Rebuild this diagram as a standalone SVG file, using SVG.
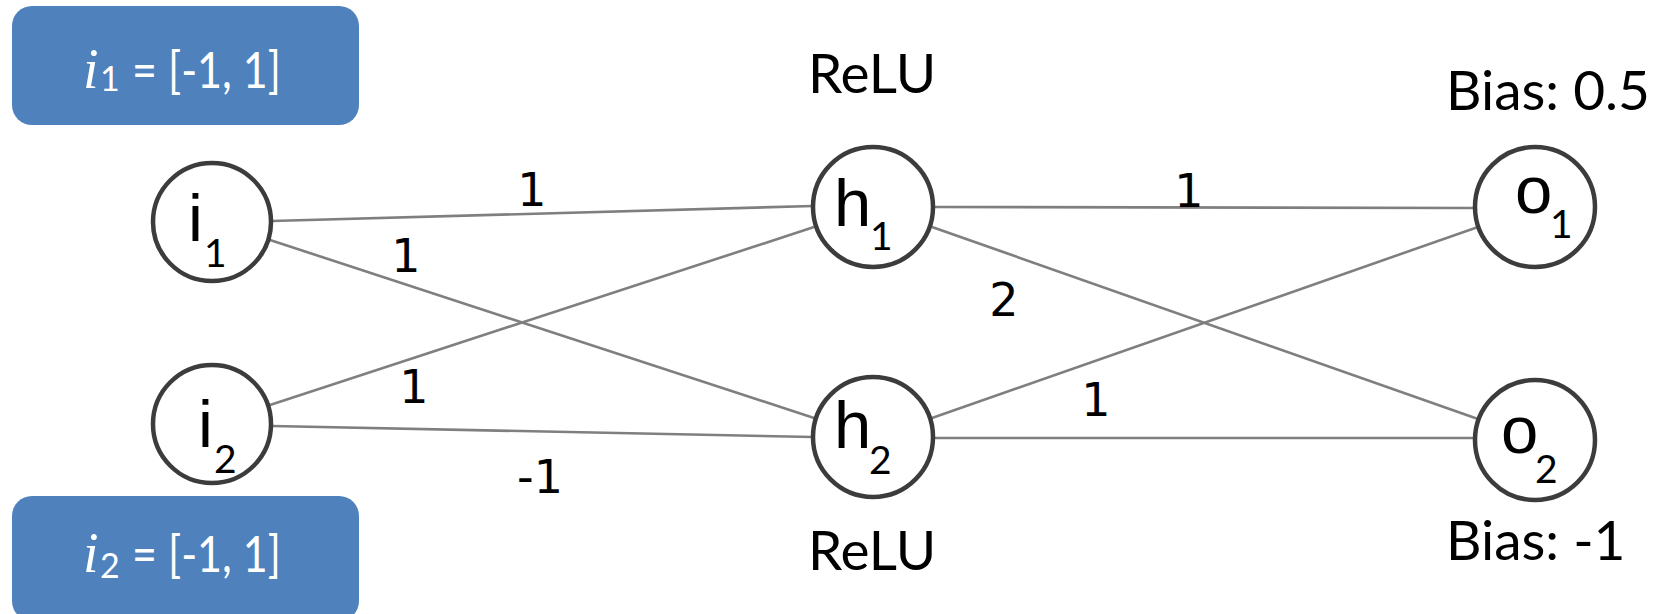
<svg xmlns="http://www.w3.org/2000/svg" width="1658" height="614" viewBox="0 0 1658 614">
<style>
.box{fill:#4F81BD;}
.btxt{fill:#fff;font-family:Lato,"Liberation Sans",sans-serif;font-size:50px;}
.bi{font-family:"Liberation Serif",serif;font-style:italic;font-size:56px;}
.bsub{font-size:34px;}
.edge{stroke:#7f7f7f;stroke-width:2.6;fill:none;}
.node{fill:#fff;stroke:#3c3c3c;stroke-width:4.5;}
.nl{font-family:"Liberation Sans",Arial,sans-serif;font-size:67px;fill:#000;}
.ns{font-family:Lato,"Liberation Sans",sans-serif;font-size:39px;}
.el{font-family:"DejaVu Sans",sans-serif;font-size:46px;fill:#000;text-anchor:middle;}
.lab{font-family:Lato,"Liberation Sans",sans-serif;font-size:55px;fill:#000;}
</style>
<rect width="1658" height="614" fill="#fff"/>
<g id="box-i1">
<rect class="box" x="12" y="6" width="347" height="119" rx="20"/>
<text class="btxt"><tspan class="bi" x="83" y="88">i</tspan><tspan class="bsub" x="100" y="91">1</tspan><tspan x="132" y="88" textLength="149" lengthAdjust="spacingAndGlyphs">= [-1, 1]</tspan></text>
</g>
<g id="box-i2">
<rect class="box" x="12" y="496" width="347" height="125" rx="20"/>
<text class="btxt"><tspan class="bi" x="83" y="572">i</tspan><tspan class="bsub" x="100" y="578">2</tspan><tspan x="132" y="572" textLength="149" lengthAdjust="spacingAndGlyphs">= [-1, 1]</tspan></text>
</g>
<g id="connectors">
<line class="edge" x1="272" y1="221" x2="813" y2="206"/>
<line class="edge" x1="270" y1="240" x2="814" y2="418"/>
<line class="edge" x1="270" y1="405" x2="814" y2="227"/>
<line class="edge" x1="272" y1="426" x2="813" y2="437"/>
<line class="edge" x1="933" y1="207" x2="1475" y2="208"/>
<line class="edge" x1="932" y1="227" x2="1478" y2="419"/>
<line class="edge" x1="932" y1="418" x2="1478" y2="227"/>
<line class="edge" x1="933" y1="438" x2="1475" y2="438"/>
<text class="el" x="532" y="206">1</text>
<text class="el" x="406" y="272">1</text>
<text class="el" x="414" y="403">1</text>
<text class="el" x="540" y="493">-1</text>
<text class="el" x="1189" y="207">1</text>
<text class="el" x="1004" y="316">2</text>
<text class="el" x="1096" y="416">1</text>
</g>
<g id="node-i1">
<circle class="node" cx="212" cy="222" r="59"/>
<text class="nl"><tspan x="188" y="241">i</tspan><tspan class="ns" x="204" y="267">1</tspan></text>
</g>
<g id="node-i2">
<circle class="node" cx="212" cy="424" r="59"/>
<text class="nl"><tspan x="198" y="447">i</tspan><tspan class="ns" x="214" y="473">2</tspan></text>
</g>
<g id="node-h1">
<circle class="node" cx="873" cy="207" r="60"/>
<text class="nl"><tspan x="834" y="226">h</tspan><tspan class="ns" x="870" y="250">1</tspan></text>
</g>
<g id="node-h2">
<circle class="node" cx="873" cy="437" r="60"/>
<text class="nl"><tspan x="834" y="448">h</tspan><tspan class="ns" x="869" y="474">2</tspan></text>
</g>
<g id="node-o1">
<circle class="node" cx="1535" cy="207" r="60"/>
<text class="nl"><tspan x="1515" y="213">o</tspan><tspan class="ns" x="1550" y="238">1</tspan></text>
</g>
<g id="node-o2">
<circle class="node" cx="1535" cy="440" r="60"/>
<text class="nl"><tspan x="1501" y="453">o</tspan><tspan class="ns" x="1535" y="483">2</tspan></text>
</g>
<g id="labels">
<text class="lab" x="872" y="93" text-anchor="middle">ReLU</text>
<text class="lab" x="872" y="570" text-anchor="middle">ReLU</text>
<text class="lab" x="1446" y="110">Bias: 0.5</text>
<text class="lab" x="1446" y="560">Bias: -1</text>
</g>
</svg>
